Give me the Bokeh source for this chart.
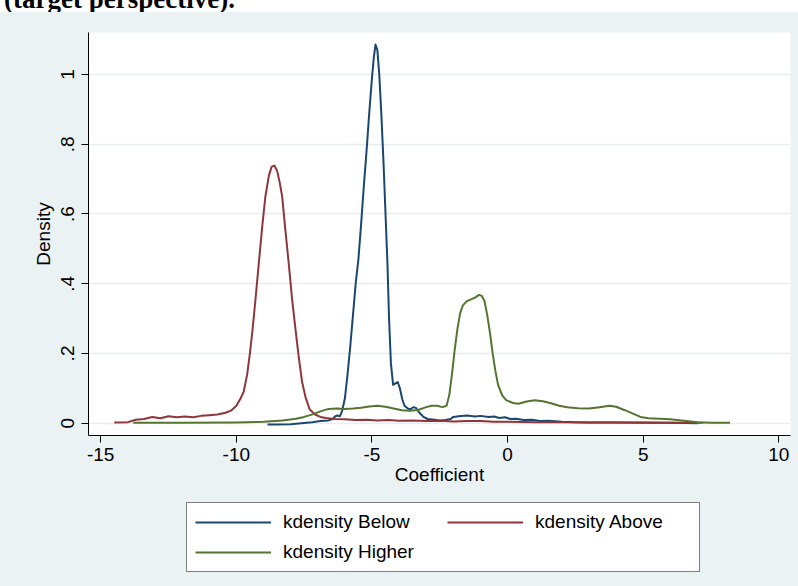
from bokeh.plotting import figure
from bokeh.models import Range1d, FixedTicker, Legend, LegendItem, Div
from bokeh.layouts import column
from bokeh.embed import file_html
from bokeh.resources import INLINE

# ---- data ----
below_x = [-8.85, -8.5, -8.0, -7.6, -7.2, -6.9, -6.6, -6.45, -6.35, -6.27, -6.18, -6.1, -6.0, -5.9,
           -5.8, -5.7, -5.6, -5.5, -5.4, -5.3, -5.2, -5.1, -5.0, -4.93, -4.87, -4.8, -4.73, -4.65,
           -4.57, -4.5, -4.43, -4.37, -4.3, -4.22, -4.12, -4.05, -3.97, -3.88, -3.8, -3.68, -3.58,
           -3.47, -3.38, -3.25, -3.1, -2.95, -2.7, -2.5, -2.3, -2.1, -2.0, -1.8, -1.5, -1.2, -1.0,
           -0.7, -0.5, -0.3, -0.1, 0.1, 0.3, 0.6, 0.9, 1.2, 1.5, 2.0, 2.5, 3.0, 4.0, 5.0, 6.0, 7.0]
below_y = [-0.004, -0.004, -0.003, 0.000, 0.003, 0.006, 0.008, 0.012, 0.020, 0.022, 0.020, 0.035, 0.07, 0.14,
           0.22, 0.31, 0.40, 0.47, 0.57, 0.68, 0.78, 0.89, 0.99, 1.05, 1.086, 1.07, 1.0, 0.88,
           0.74, 0.60, 0.46, 0.30, 0.17, 0.11, 0.115, 0.118, 0.10, 0.068, 0.05, 0.042, 0.040,
           0.046, 0.044, 0.030, 0.018, 0.012, 0.010, 0.008, 0.009, 0.012, 0.018, 0.020, 0.022, 0.019, 0.021,
           0.018, 0.019, 0.015, 0.017, 0.012, 0.013, 0.009, 0.010, 0.006, 0.007, 0.004, 0.003, 0.002, 0.002, 0.001, 0.001, 0.000]

above_x = [-14.5, -14.0, -13.7, -13.4, -13.1, -12.8, -12.5, -12.2, -11.9, -11.6, -11.3, -11.0, -10.7,
           -10.4, -10.2, -10.0, -9.85, -9.73, -9.6, -9.5, -9.4, -9.3, -9.17, -9.05, -8.93, -8.8, -8.7,
           -8.6, -8.5, -8.4, -8.31, -8.2, -8.07, -7.95, -7.82, -7.7, -7.58, -7.45, -7.3, -7.1, -6.9,
           -6.7, -6.4, -6.0, -5.6, -5.2, -4.8, -4.4, -4.0, -3.5, -3.0, -2.5, -2.0, -1.5, -1.0, -0.5,
           0.0, 1.0, 2.0, 3.0, 4.0, 5.0, 6.0, 7.2]
above_y = [0.002, 0.003, 0.010, 0.012, 0.018, 0.014, 0.020, 0.017, 0.019, 0.017, 0.021, 0.023, 0.025,
           0.030, 0.036, 0.050, 0.070, 0.090, 0.14, 0.20, 0.27, 0.35, 0.46, 0.56, 0.65, 0.71, 0.735,
           0.739, 0.725, 0.69, 0.65, 0.56, 0.46, 0.36, 0.27, 0.19, 0.12, 0.075, 0.040, 0.025, 0.018,
           0.015, 0.012, 0.011, 0.009, 0.010, 0.008, 0.009, 0.007, 0.008, 0.006, 0.007, 0.005, 0.006, 0.006, 0.004,
           0.004, 0.003, 0.003, 0.002, 0.002, 0.002, 0.001, 0.001]

higher_x = [-13.8, -12.0, -10.0, -9.0, -8.3, -7.8, -7.5, -7.16, -6.9, -6.6, -6.3, -6.0, -5.7, -5.4,
            -5.1, -4.8, -4.5, -4.2, -3.9, -3.6, -3.3, -3.0, -2.8, -2.6, -2.4, -2.25, -2.15, -2.05,
            -1.95, -1.85, -1.75, -1.65, -1.5, -1.35, -1.2, -1.05, -0.95, -0.85, -0.75, -0.65, -0.55,
            -0.45, -0.35, -0.2, -0.05, 0.2, 0.4, 0.7, 1.0, 1.3, 1.6, 1.9, 2.2, 2.6, 3.0, 3.4, 3.75,
            4.0, 4.3, 4.6, 4.9, 5.2, 5.6, 6.0, 6.5, 7.0, 7.5, 8.2]
higher_y = [0.001, 0.001, 0.002, 0.004, 0.008, 0.013, 0.018, 0.026, 0.034, 0.041, 0.042, 0.041, 0.042, 0.044,
            0.048, 0.050, 0.047, 0.042, 0.037, 0.036, 0.038, 0.046, 0.050, 0.050, 0.046, 0.050, 0.08, 0.14,
            0.21, 0.27, 0.315, 0.338, 0.350, 0.355, 0.360, 0.368, 0.365, 0.350, 0.31, 0.26, 0.20,
            0.15, 0.11, 0.08, 0.066, 0.058, 0.056, 0.062, 0.066, 0.063, 0.057, 0.050, 0.046, 0.043, 0.042, 0.046, 0.050,
            0.047, 0.038, 0.028, 0.018, 0.014, 0.013, 0.011, 0.007, 0.003, 0.001, 0.001]

x_ticks = [-15, -10, -5, 0, 5, 10]
x_tick_labels = ["-15", "-10", "-5", "0", "5", "10"]
y_ticks = [0, 0.2, 0.4, 0.6, 0.8, 1.0]
y_tick_labels = ["0", ".2", ".4", ".6", ".8", "1"]

series_names = ["kdensity Below", "kdensity Above", "kdensity Higher"]
series_colors = ["#1A476F", "#90353B", "#55752F"]
caption_fragment = "(target perspective)."

# ---- styling ----
BG = "#EAF2F3"
GRID = "#E6EEF0"
FONT = "Liberation Sans"
FS = "19px"

p = figure(frame_width=702, frame_height=403,
           x_range=Range1d(-15.45, 10.43), y_range=Range1d(-0.0353, 1.1205),
           output_backend="svg", toolbar_location=None,
           min_border_left=88, min_border_right=8, min_border_top=20, min_border_bottom=60)
p.border_fill_color = BG
p.background_fill_color = "white"
p.outline_line_color = None

for ax in (p.xaxis[0], p.yaxis[0]):
    ax.axis_line_color = "black"
    ax.axis_line_width = 1
    ax.major_tick_line_color = "black"
    ax.major_tick_out = 7
    ax.major_tick_in = 0
    ax.minor_tick_line_color = None
    ax.major_label_text_font = FONT
    ax.major_label_text_font_size = FS
    ax.major_label_text_color = "black"
    ax.axis_label_text_font = FONT
    ax.axis_label_text_font_size = FS
    ax.axis_label_text_font_style = "normal"
    ax.axis_label_text_color = "black"

p.xaxis[0].ticker = FixedTicker(ticks=x_ticks)
p.xaxis[0].major_label_overrides = {t: l for t, l in zip(x_ticks, x_tick_labels)}
p.xaxis[0].axis_label = "Coefficient"
p.xaxis[0].major_label_standoff = 5
p.xaxis[0].axis_label_standoff = 0

p.yaxis[0].ticker = FixedTicker(ticks=y_ticks)
p.yaxis[0].major_label_overrides = {t: l for t, l in zip(y_ticks, y_tick_labels)}
p.yaxis[0].major_label_orientation = "vertical"
p.yaxis[0].axis_label = "Density"
p.yaxis[0].major_label_standoff = 7
p.yaxis[0].axis_label_standoff = 5

p.xgrid.visible = False
p.ygrid.grid_line_color = GRID
p.ygrid.grid_line_width = 1.5

series_x = [below_x, above_x, higher_x]
series_y = [below_y, above_y, higher_y]
for xs, ys, c in zip(series_x, series_y, series_colors):
    p.line(xs, ys, line_color=c, line_width=2, line_join="round")

# ---- legend strip (separate small figure so the box is not clipped) ----
# its ranges lie away from the data, so only the legend shows
lf = figure(width=798, height=91, x_range=Range1d(100, 101), y_range=Range1d(100, 101),
            output_backend="svg", toolbar_location=None, min_border=0,
            x_axis_type=None, y_axis_type=None)
lf.border_fill_color = BG
lf.background_fill_alpha = 0
lf.outline_line_color = None
lf.xgrid.visible = False
lf.ygrid.visible = False

items = []
for name, xs, ys, c in zip(series_names, series_x, series_y, series_colors):
    r = lf.line(xs, ys, line_color=c, line_width=2)
    items.append(LegendItem(label=name, renderers=[r]))

legend = Legend(items=items, orientation="horizontal", ncols=2, location=(98, 14))
legend.label_text_font = FONT
legend.label_text_font_size = FS
legend.label_text_color = "black"
legend.border_line_color = "black"
legend.border_line_width = 1
legend.background_fill_color = "white"
legend.background_fill_alpha = 1
legend.glyph_width = 76
legend.glyph_height = 20
legend.label_standoff = 12
legend.label_width = 156
legend.spacing = 8
legend.padding = 8
legend.margin = 0
lf.add_layout(legend, "center")

cap = Div(text='<div style="position:relative; top:-14px; font-family:\'Liberation Serif\'; '
               'font-weight:bold; font-size:27px; line-height:27px; white-space:nowrap; '
               'padding-left:4px; color:black;">' + caption_fragment + '</div>',
          width=798, height=12, margin=(0, 0, 0, 0),
          styles={"overflow": "hidden", "background-color": "white"})

layout = column(cap, p, lf, spacing=0, styles={"background-color": BG})
open("out.html", "w").write(file_html(layout, INLINE))
